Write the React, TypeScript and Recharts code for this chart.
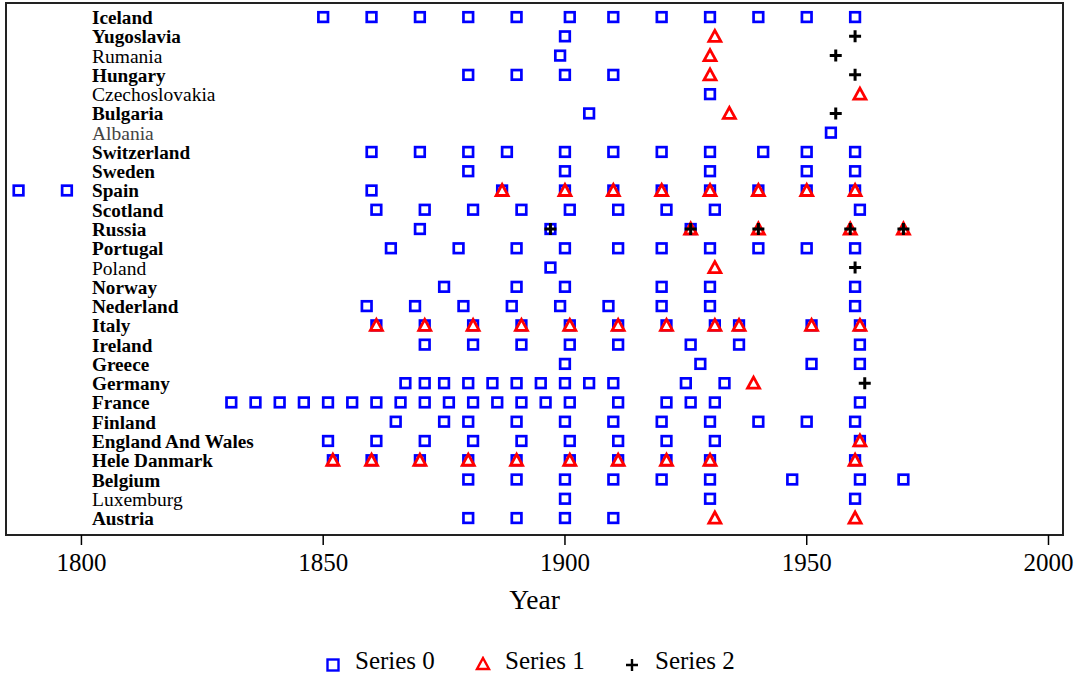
import React from 'react'
import {
  ScatterChart, Scatter, XAxis, YAxis, ReferenceArea,
} from 'recharts'

// countries, top row first
const countries = [
  'Iceland', 'Yugoslavia', 'Rumania', 'Hungary', 'Czechoslovakia', 'Bulgaria', 'Albania',
  'Switzerland', 'Sweden', 'Spain', 'Scotland', 'Russia', 'Portugal', 'Poland', 'Norway',
  'Nederland', 'Italy', 'Ireland', 'Greece', 'Germany', 'France', 'Finland',
  'England And Wales', 'Hele Danmark', 'Belgium', 'Luxemburg', 'Austria',
]

const plainLabels = ['Rumania', 'Czechoslovakia', 'Albania', 'Poland', 'Luxemburg']

const series0: number[][] = [
  [1850, 1860, 1870, 1880, 1890, 1901, 1910, 1920, 1930, 1940, 1950, 1960],
  [1900],
  [1899],
  [1880, 1890, 1900, 1910],
  [1930],
  [1905],
  [1955],
  [1860, 1870, 1880, 1888, 1900, 1910, 1920, 1930, 1941, 1950, 1960],
  [1880, 1900, 1930, 1950, 1960],
  [1787, 1797, 1860, 1887, 1900, 1910, 1920, 1930, 1940, 1950, 1960],
  [1861, 1871, 1881, 1891, 1901, 1911, 1921, 1931, 1961],
  [1870, 1897, 1926],
  [1864, 1878, 1890, 1900, 1911, 1920, 1930, 1940, 1950, 1960],
  [1897],
  [1875, 1890, 1900, 1920, 1930, 1960],
  [1859, 1869, 1879, 1889, 1899, 1909, 1920, 1930, 1960],
  [1861, 1871, 1881, 1891, 1901, 1911, 1921, 1931, 1936, 1951, 1961],
  [1871, 1881, 1891, 1901, 1911, 1926, 1936, 1961],
  [1900, 1928, 1951, 1961],
  [1867, 1871, 1875, 1880, 1885, 1890, 1895, 1900, 1905, 1910, 1925, 1933],
  [1831, 1836, 1841, 1846, 1851, 1856, 1861, 1866, 1871, 1876, 1881, 1886, 1891, 1896, 1901, 1911, 1921, 1926, 1931, 1961],
  [1865, 1875, 1880, 1890, 1900, 1910, 1920, 1930, 1940, 1950, 1960],
  [1851, 1861, 1871, 1881, 1891, 1901, 1911, 1921, 1931, 1961],
  [1852, 1860, 1870, 1880, 1890, 1901, 1911, 1921, 1930, 1960],
  [1880, 1890, 1900, 1910, 1920, 1930, 1947, 1961, 1970],
  [1900, 1930, 1960],
  [1880, 1890, 1900, 1910],
]

const series1: number[][] = [
  [],
  [1931],
  [1930],
  [1930],
  [1961],
  [1934],
  [],
  [],
  [],
  [1887, 1900, 1910, 1920, 1930, 1940, 1950, 1960],
  [],
  [1926, 1940, 1959, 1970],
  [],
  [1931],
  [],
  [],
  [1861, 1871, 1881, 1891, 1901, 1911, 1921, 1931, 1936, 1951, 1961],
  [],
  [],
  [1939],
  [],
  [],
  [1961],
  [1852, 1860, 1870, 1880, 1890, 1901, 1911, 1921, 1930, 1960],
  [],
  [],
  [1931, 1960],
]

const series2: number[][] = [
  [],
  [1960],
  [1956],
  [1960],
  [],
  [1956],
  [],
  [],
  [],
  [],
  [],
  [1897, 1926, 1940, 1959, 1970],
  [],
  [1960],
  [],
  [],
  [],
  [],
  [],
  [1962],
  [],
  [],
  [],
  [],
  [],
  [],
  [],
]

const xTicks = [1800, 1850, 1900, 1950, 2000]

const X_MIN = 1784.4
const X_MAX = 2003
const Y_MIN = -0.88
const Y_MAX = 26.73
const FONT = 'Liberation Serif, Times New Roman, serif'

const n = countries.length
const toPoints = (rows: number[][]) =>
  rows.flatMap((years, i) => years.map(year => ({ x: year, y: n - 1 - i })))

const pts0 = toPoints(series0)
const pts1 = toPoints(series1)
const pts2 = toPoints(series2)

function SquareShape({ cx, cy }: any) {
  return <rect x={cx - 4.8} y={cy - 4.8} width={9.6} height={9.6} fill="#fff" stroke="#0000ff" strokeWidth={2.7} />
}

function TriangleShape({ cx, cy }: any) {
  return (
    <path
      d={`M${cx},${cy - 6} L${cx + 6},${cy + 5} L${cx - 6},${cy + 5} Z`}
      fill="#fff" stroke="#ff0000" strokeWidth={2.8}
    />
  )
}

function PlusShape({ cx, cy }: any) {
  return (
    <path
      d={`M${cx - 6},${cy} H${cx + 6} M${cx},${cy - 6} V${cy + 6}`}
      stroke="#000" strokeWidth={3}
    />
  )
}

const renderCountryTick = (props: any) => {
  const { y, payload } = props
  const name = countries[n - 1 - payload.value]
  const plain = plainLabels.includes(name)
  return (
    <text
      x={92} y={y + 7}
      fontFamily={FONT}
      fontSize={plain ? 19.5 : 19.2}
      fontWeight={plain ? 'normal' : 'bold'}
      fill={name === 'Albania' ? '#444' : '#000'}
      textAnchor="start"
    >
      {name}
    </text>
  )
}

function YearTick(props: any) {
  const { x, y, payload } = props
  return (
    <text x={x} y={y + 18} fontFamily={FONT} fontSize={25} fill="#000" textAnchor="middle">
      {payload.value}
    </text>
  )
}

function LegendRow() {
  return (
    <div style={{ position: 'absolute', left: 0, top: 650, width: 1075, height: 28, fontFamily: FONT, fontSize: 25 }}>
      <svg width={14} height={14} style={{ position: 'absolute', left: 326, top: 8 }}>
        <rect x={1.5} y={1.5} width={11} height={11} fill="#fff" stroke="#0000ff" strokeWidth={2.4} />
      </svg>
      <span style={{ position: 'absolute', left: 355, top: -3 }}>Series 0</span>
      <svg width={18} height={16} style={{ position: 'absolute', left: 474, top: 6 }}>
        <path d="M9,2 L15,13 L3,13 Z" fill="#fff" stroke="#ff0000" strokeWidth={2.4} />
      </svg>
      <span style={{ position: 'absolute', left: 505, top: -3 }}>Series 1</span>
      <svg width={14} height={14} style={{ position: 'absolute', left: 625, top: 8 }}>
        <path d="M1,7 H13 M7,1 V13" stroke="#000" strokeWidth={2.4} />
      </svg>
      <span style={{ position: 'absolute', left: 655, top: -3 }}>Series 2</span>
    </div>
  )
}

export default function App() {
  return (
    <div style={{ position: 'absolute', left: 0, top: 0, width: 1075, height: 678, background: '#fff' }}>
      <ScatterChart width={1075} height={678} margin={{ top: 3, right: 12, left: 5, bottom: 0 }}>
        <XAxis
          type="number"
          dataKey="x"
          domain={[X_MIN, X_MAX]}
          ticks={xTicks}
          allowDataOverflow
          axisLine={false}
          tickSize={10}
          tickMargin={8}
          tickLine={{ stroke: '#000', strokeWidth: 1.5 }}
          tick={<YearTick />}
          height={143}
          label={{ value: 'Year', position: 'insideTop', offset: 54, fill: '#000', fontSize: 27.5, fontFamily: FONT }}
        />
        <YAxis
          type="number"
          dataKey="y"
          domain={[Y_MIN, Y_MAX]}
          ticks={countries.map((_, i) => i)}
          interval={0}
          allowDataOverflow
          axisLine={false}
          tickLine={false}
          tick={renderCountryTick}
          width={1}
        />
        <ReferenceArea
          x1={X_MIN} x2={X_MAX} y1={Y_MIN} y2={Y_MAX}
          fill="none" stroke="#222" strokeWidth={2} fillOpacity={0} strokeOpacity={1}
          ifOverflow="visible"
        />
        <Scatter name="Series 0" data={pts0} shape={SquareShape} isAnimationActive={false} />
        <Scatter name="Series 1" data={pts1} shape={TriangleShape} isAnimationActive={false} />
        <Scatter name="Series 2" data={pts2} shape={PlusShape} isAnimationActive={false} />
      </ScatterChart>
      <LegendRow />
    </div>
  )
}
